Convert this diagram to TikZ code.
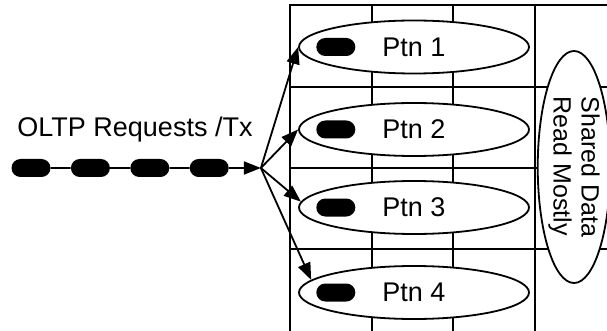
\documentclass[tikz,border=0pt]{standalone}
\usepackage{fontspec}
\setmainfont{Liberation Sans}
\usetikzlibrary{
	arrows.meta,
	positioning,
	shapes.geometric,
	shapes.misc
}

\begin{document}
\begin{tikzpicture}[
			x=1pt, y=-1pt,
			font=\fontsize{27}{31}\selectfont,
			>={Triangle[length=17pt, width=13pt]},
			grade/.style={line width=1.8pt},
			ptn/.style={draw, ellipse, fill=white, line width=1.8pt, minimum width=230pt, minimum height=53pt, inner sep=0pt},
			pill/.style={rounded rectangle, fill=black, minimum width=39pt, minimum height=18pt, inner sep=0pt},
			shared/.style={draw, ellipse, fill=white, line width=1.8pt, minimum width=232pt, minimum height=66pt, inner sep=0pt, rotate=-90, align=left, font=\fontsize{25}{28}\selectfont},
			fl/.style={->, line width=1.8pt}
		]
		\useasboundingbox (0,0) rectangle (607,331);

		\draw[grade] (290,331) -- (290,5) -- (607,5);
		\draw[grade] (372,5) -- (372,331);
		\draw[grade] (453,5) -- (453,331);
		\draw[grade] (535,5) -- (535,331);
		\draw[grade] (290,87) -- (607,87);
		\draw[grade] (290,168) -- (607,168);
		\draw[grade] (290,249) -- (607,249);

		\node[anchor=base] (lbl) at (135,137) {OLTP Requests /Tx};

		\node[pill] (q1) at (31,168) {};
		\node[pill, right=20pt of q1] (q2) {};
		\node[pill, right=20pt of q2] (q3) {};
		\node[pill, right=20pt of q3] (q4) {};
		\coordinate[right=32pt of q4] (hub);

		\node[ptn] (p1) at (414,47) {Ptn 1};
		\node[ptn] (p2) at (414,129.5) {Ptn 2};
		\node[ptn] (p3) at (414,207.5) {Ptn 3};
		\node[ptn] (p4) at (414,292.5) {Ptn 4};
		\node[pill, right=18pt of p1.west] (b1) {};
		\node[pill, right=18pt of p2.west] (b2) {};
		\node[pill, right=18pt of p3.west] (b3) {};
		\node[pill, right=18pt of p4.west] (b4) {};

		\node[shared] (sd) at (574,167) {Shared Data\\Read Mostly};

		\draw[line width=1.8pt] (q1) -- (q2) -- (q3) -- (q4);
		\draw[fl] (q4) -- (hub);
		\draw[fl] (hub) -- (p1.west);
		\draw[fl] (hub) -- (p2.west);
		\draw[fl] (hub) -- (p3.177);
		\draw[fl] (hub) -- (p4.173);
	\end{tikzpicture}
\end{document}
